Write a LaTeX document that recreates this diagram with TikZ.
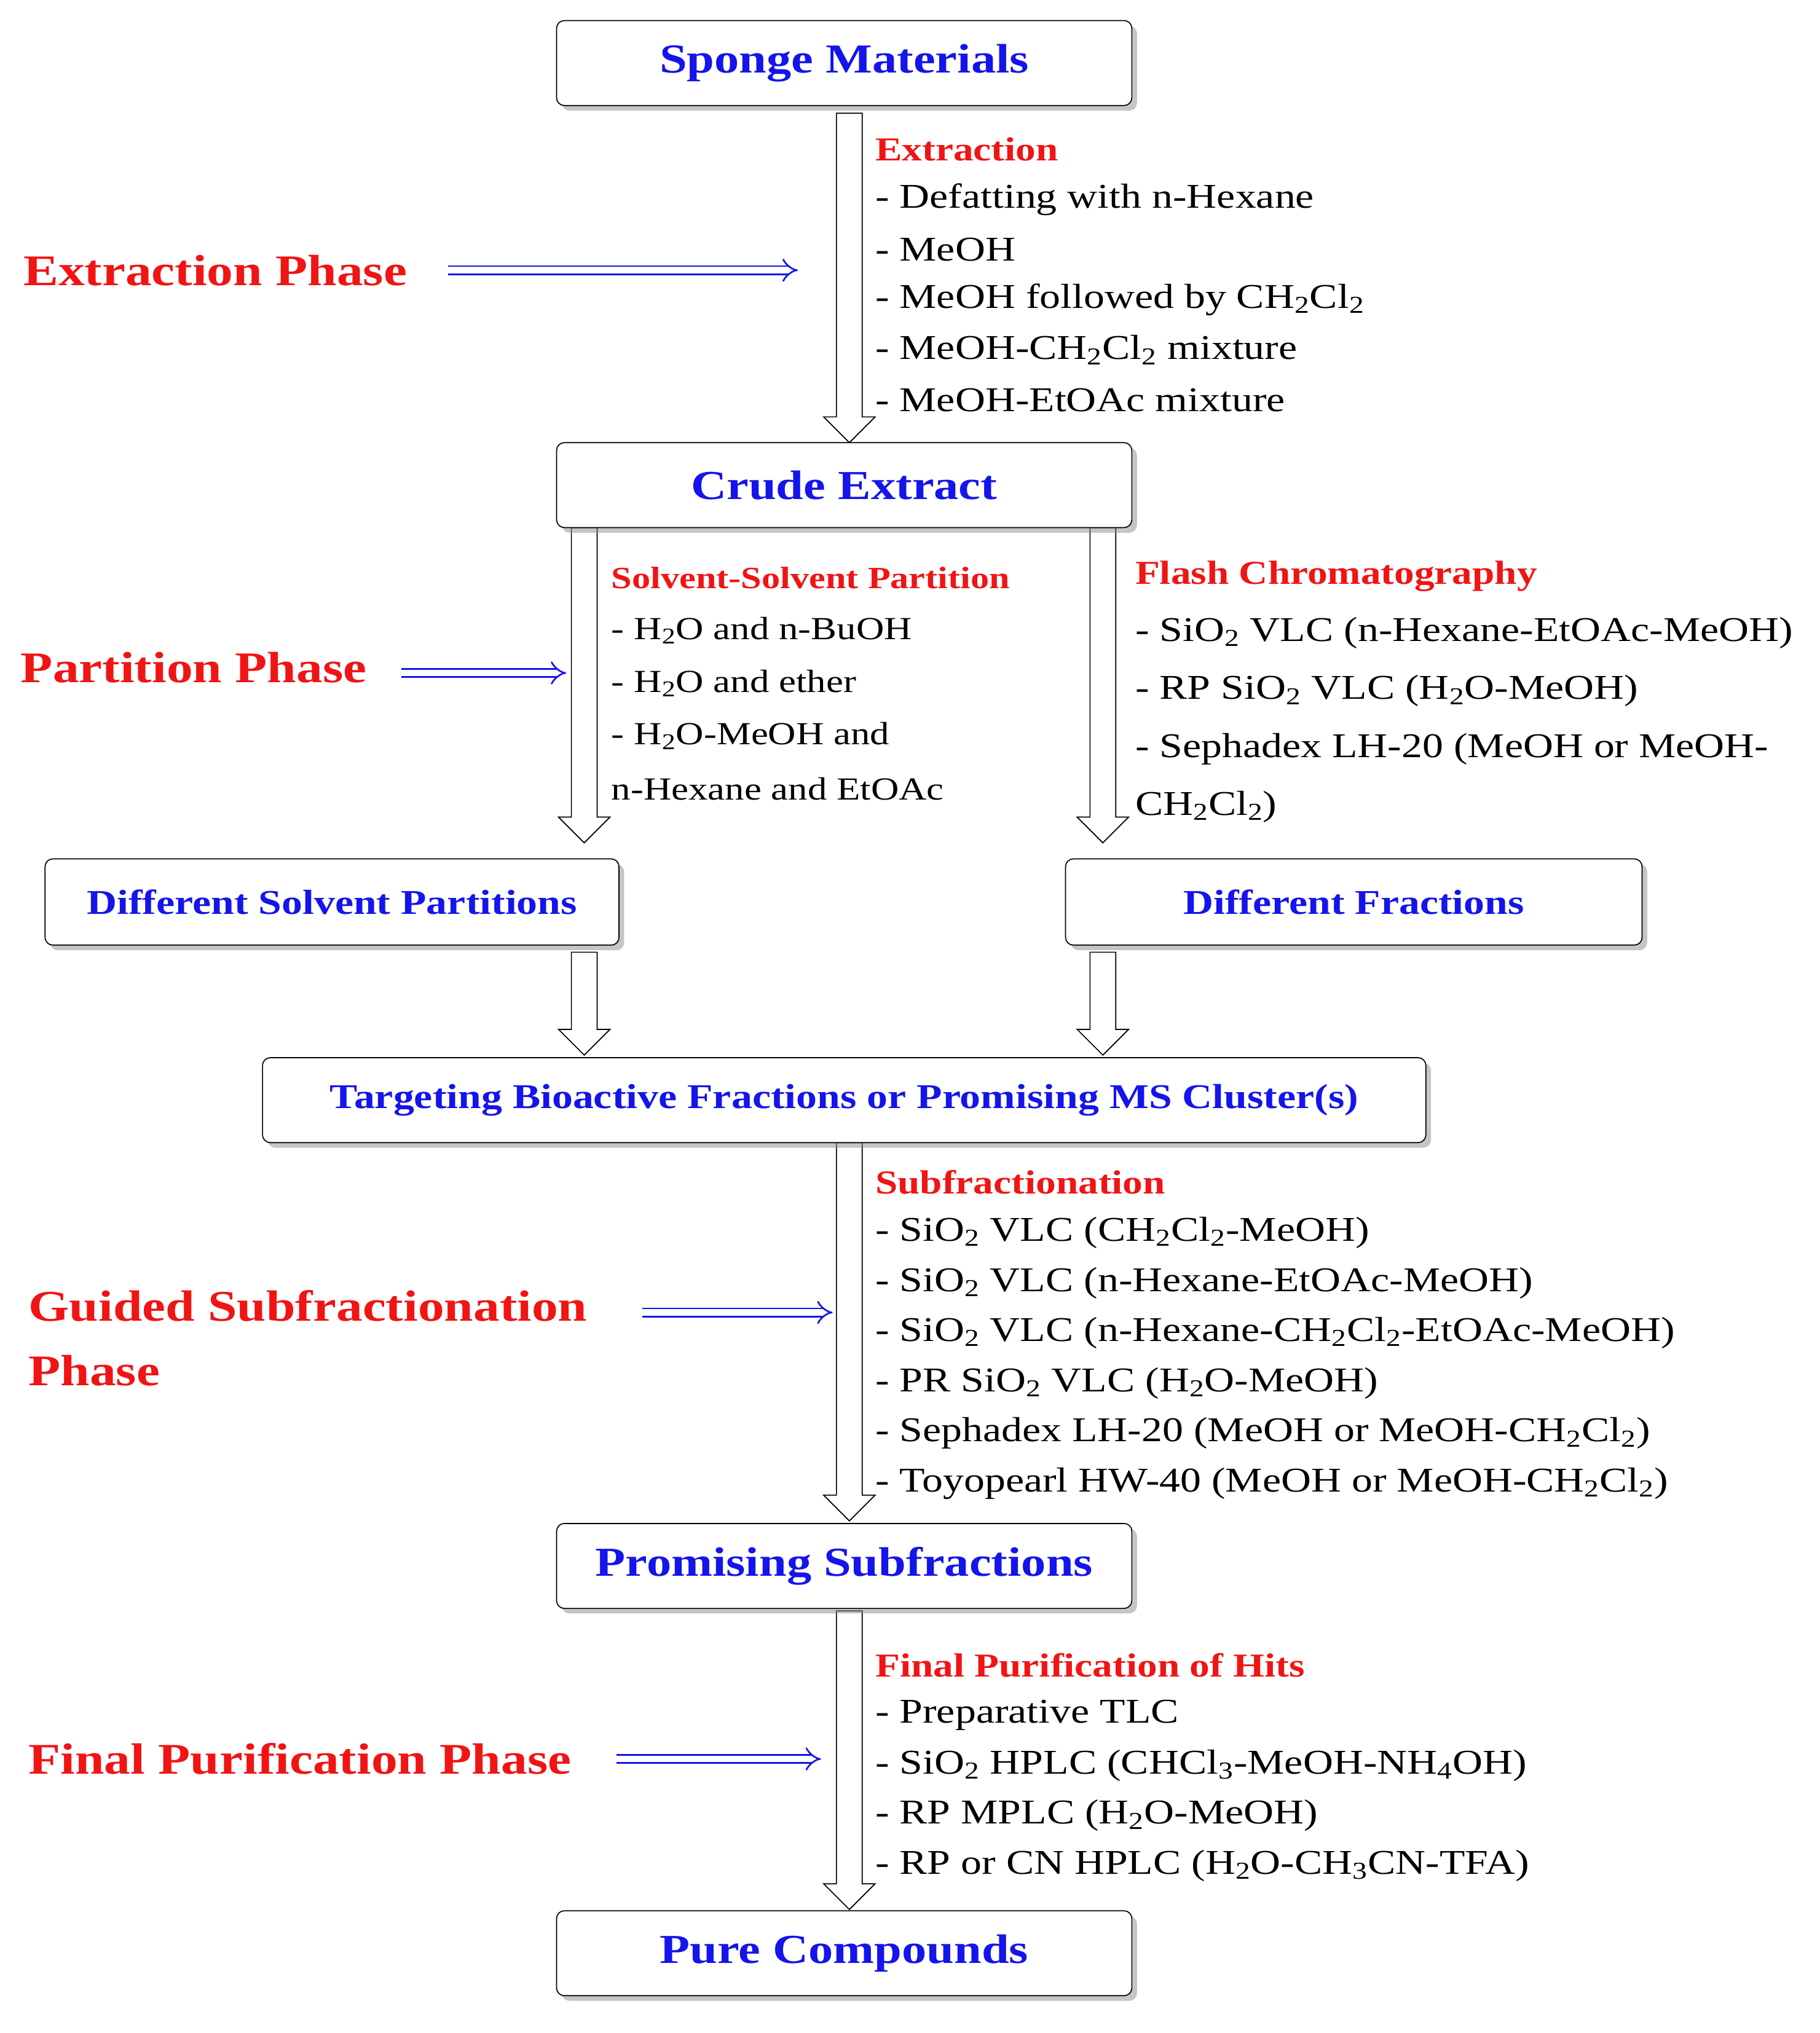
\documentclass[tikz,border=0pt]{standalone}
\usepackage{fontspec}
\setmainfont{Liberation Serif}[FakeStretch=1.2]
\usetikzlibrary{shadows,arrows.meta,arrows}
\definecolor{tb}{RGB}{20,20,235}
\definecolor{tr}{RGB}{240,20,20}
\newcommand{\sbs}[1]{\textsubscript{#1}}
\begin{document}
\begin{tikzpicture}[x=1pt,y=-1pt,
 box/.style={draw,thick,rounded corners=6pt,fill=white,drop shadow={shadow xshift=4pt,shadow yshift=-4pt,fill=black!45},font=\fontsize{32}{36}\selectfont\bfseries,text=tb},
 sbox/.style={box,font=\fontsize{27}{32}\selectfont\bfseries},
 lst/.style={anchor=west,inner sep=0,font=\fontsize{27}{30}\selectfont},
 hd/.style={anchor=west,inner sep=0,text=tr,font=\fontsize{26}{30}\selectfont\bfseries},
 ph/.style={anchor=west,inner sep=0,text=tr,align=left,font=\fontsize{34}{50}\selectfont\bfseries},
 parr/.style={draw=tb,double,double distance=5pt,line width=1.3pt,-{Implies}},
 harr/.style={draw,thick,fill=white}]
\useasboundingbox (0,0) rectangle (1414,1580);
\def\harrow#1#2#3{\draw[harr] (#1-10,#2) -- (#1+10,#2) -- (#1+10,#3-20) -- (#1+20,#3-20) -- (#1,#3) -- (#1-20,#3-20) -- (#1-10,#3-20) -- cycle;}
\harrow{660}{88}{344}
\harrow{454}{410}{655}
\harrow{857}{410}{655}
\harrow{454}{740}{820}
\harrow{857}{740}{820}
\harrow{660}{888}{1182}
\harrow{660}{1252}{1484}
\node[box,minimum width=447,minimum height=66] (sm) at (656,49) {Sponge Materials};
\node[box,minimum width=447,minimum height=66] (ce) at (656,377) {Crude Extract};
\node[sbox,minimum width=446,minimum height=67] (dsp) at (258,701) {Different Solvent Partitions};
\node[sbox,minimum width=448,minimum height=67] (df) at (1052,701) {Different Fractions};
\node[sbox,minimum width=904,minimum height=66] (tg) at (656,855) {Targeting Bioactive Fractions or Promising MS Cluster(s)};
\node[box,minimum width=447,minimum height=66] (ps) at (656,1217) {Promising Subfractions};
\node[box,minimum width=447,minimum height=66] (pc) at (656,1518) {Pure Compounds};
\node[hd] (h1) at (680,116) {Extraction};
\node[lst] (e1) at (680,155) {- Defatting with n-Hexane};
\node[lst] (e2) at (680,194) {- MeOH};
\node[lst] (e3) at (680,233) {- MeOH followed by CH\sbs{2}Cl\sbs{2}};
\node[lst] (e4) at (680,272) {- MeOH-CH\sbs{2}Cl\sbs{2} mixture};
\node[lst] (e5) at (680,311) {- MeOH-EtOAc mixture};
\node[hd,font=\fontsize{24}{28}\selectfont\bfseries] (h2) at (475,449) {Solvent-Solvent Partition};
\node[lst,font=\fontsize{25}{28}\selectfont] (p1) at (475,490) {- H\sbs{2}O and n-BuOH};
\node[lst,font=\fontsize{25}{28}\selectfont] (p2) at (475,531) {- H\sbs{2}O and ether};
\node[lst,font=\fontsize{25}{28}\selectfont] (p3) at (475,572) {- H\sbs{2}O-MeOH and};
\node[lst,font=\fontsize{25}{28}\selectfont] (p4) at (475,613) {n-Hexane and EtOAc};
\node[hd] (h3) at (882,448) {Flash Chromatography};
\node[lst] (f1) at (882,492) {- SiO\sbs{2} VLC (n-Hexane-EtOAc-MeOH)};
\node[lst] (f2) at (882,537) {- RP SiO\sbs{2} VLC (H\sbs{2}O-MeOH)};
\node[lst] (f3) at (882,582) {- Sephadex LH-20 (MeOH or MeOH-};
\node[lst] (f4) at (882,627) {CH\sbs{2}Cl\sbs{2})};
\node[hd] (h4) at (680,919) {Subfractionation};
\node[lst] (s1) at (680,958) {- SiO\sbs{2} VLC (CH\sbs{2}Cl\sbs{2}-MeOH)};
\node[lst] (s2) at (680,997) {- SiO\sbs{2} VLC (n-Hexane-EtOAc-MeOH)};
\node[lst] (s3) at (680,1036) {- SiO\sbs{2} VLC (n-Hexane-CH\sbs{2}Cl\sbs{2}-EtOAc-MeOH)};
\node[lst] (s4) at (680,1075) {- PR SiO\sbs{2} VLC (H\sbs{2}O-MeOH)};
\node[lst] (s5) at (680,1114) {- Sephadex LH-20 (MeOH or MeOH-CH\sbs{2}Cl\sbs{2})};
\node[lst] (s6) at (680,1153) {- Toyopearl HW-40 (MeOH or MeOH-CH\sbs{2}Cl\sbs{2})};
\node[hd] (h5) at (680,1294) {Final Purification of Hits};
\node[lst] (q1) at (680,1333) {- Preparative TLC};
\node[lst] (q2) at (680,1372) {- SiO\sbs{2} HPLC (CHCl\sbs{3}-MeOH-NH\sbs{4}OH)};
\node[lst] (q3) at (680,1411) {- RP MPLC (H\sbs{2}O-MeOH)};
\node[lst] (q4) at (680,1450) {- RP or CN HPLC (H\sbs{2}O-CH\sbs{3}CN-TFA)};
\node[ph] (ph1) at (18,210) {Extraction Phase};
\node[ph] (ph2) at (16,519) {Partition Phase};
\node[ph] (ph3) at (22,1040) {Guided Subfractionation\\Phase};
\node[ph] (ph4) at (22,1367) {Final Purification Phase};
\coordinate (a1s) at (348,210); \coordinate (a1e) at (620,210);
\coordinate (a2s) at (312,523); \coordinate (a2e) at (440,523);
\coordinate (a3s) at (499,1020); \coordinate (a3e) at (647,1020);
\coordinate (a4s) at (479,1367); \coordinate (a4e) at (638,1367);
\draw[parr] (a1s) -- (a1e);
\draw[parr] (a2s) -- (a2e);
\draw[parr] (a3s) -- (a3e);
\draw[parr] (a4s) -- (a4e);
\end{tikzpicture}
\end{document}
